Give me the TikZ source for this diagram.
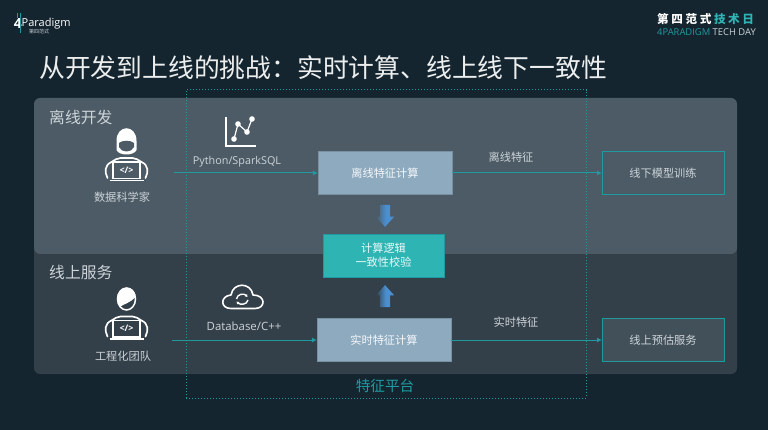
\documentclass[tikz,border=0pt]{standalone}
\usepackage{fontspec}
\setmainfont{Noto Sans CJK SC}
\newfontfamily\latinfont{Open Sans}
\definecolor{pagebg}{RGB}{20,37,48}
\definecolor{panelup}{RGB}{76,91,102}
\definecolor{paneldown}{RGB}{51,63,73}
\definecolor{tealline}{RGB}{31,154,160}
\definecolor{tealbox}{RGB}{47,180,180}
\definecolor{steelbox}{RGB}{141,170,191}
\definecolor{softtext}{RGB}{205,212,216}
\definecolor{arrowblue}{RGB}{74,143,208}
\usetikzlibrary{arrows.meta,shapes.arrows}
\pgfdeclarehorizontalshading{fadeup}{100bp}{color(0bp)=(panelup); color(25bp)=(panelup); color(52bp)=(arrowblue); color(100bp)=(arrowblue)}
\pgfdeclarehorizontalshading{fadedown}{100bp}{color(0bp)=(paneldown); color(25bp)=(paneldown); color(52bp)=(arrowblue); color(100bp)=(arrowblue)}

\tikzset{
  pics/coder/.style={code={
    \draw[white, line width=1.7pt, line join=round, line cap=round]
      (-19,8) .. controls (-22,2) and (-22,-5) .. (-15,-8)
      .. controls (-12,-10) and (-9,-12) .. (-6,-12)
      -- (6,-12) .. controls (9,-12) and (12,-10) .. (15,-8)
      .. controls (22,-5) and (22,2) .. (19,8);
    \draw[white, fill=#1, line width=1.2pt] (-13.5,-8) rectangle (13.5,8.5);
    \draw[white, line width=1.8pt] (-17,10.5) -- (17,10.5);
    \node[text=white, font=\latinfont\fontsize{9}{9}\selectfont\bfseries, inner sep=0pt] (code) at (0,0) {</>};
  }}
}

\begin{document}
\begin{tikzpicture}[x=1pt, y=-1pt,
    every node/.style={align=center, text=softtext, font=\fontsize{11.2}{14}\selectfont},
    panel/.style={minimum width=703pt, rounded corners=6pt, inner sep=0pt, outer sep=0pt},
    calcbox/.style={fill=steelbox, draw=steelbox!85!black, text=white!92!steelbox, minimum width=134pt, minimum height=43pt, inner sep=0pt, outer sep=0pt},
    sinkbox/.style={draw=tealline, line width=1pt, minimum width=122pt, minimum height=43pt, inner sep=0pt, outer sep=0pt},
    flowline/.style={-{Latex[length=5pt, width=5pt]}, tealline, line width=1pt},
    blockarrow/.style={single arrow, minimum height=22pt, minimum width=18pt, inner sep=5pt, outer sep=0pt,
                       single arrow head extend=4pt, single arrow tip angle=84, shape border rotate=0},
    tag/.style={inner sep=0pt}]

  \useasboundingbox (0,0) rectangle (768,430);
  \fill[pagebg] (0,0) rectangle (768,430);

  \node[tag, text=white, font=\latinfont\fontsize{11}{11}\selectfont, anchor=west] (logoname) at (21.5,23.5) {Paradigm};
  \node[tag, text=white, font=\latinfont\fontsize{14}{14}\selectfont\bfseries, anchor=east] (logofour) at (22,23.5) {4};
  \node[tag, text=softtext, font=\fontsize{5}{5}\selectfont] (logosub) at (39,31.5) {第四范式};
  \draw[tealline, line width=1pt] (17.5,13) -- (17.5,18) (20.5,13) -- (20.5,33);

  \node[tag, text=white, font=\fontsize{11.6}{12}\selectfont\bfseries, anchor=west] (dayzh) at (657,19.5)
    {第\hspace{2.6pt}四\hspace{2.6pt}范\hspace{2.6pt}式\hspace{2.6pt}\textcolor{tealbox}{技\hspace{2.6pt}术\hspace{2.6pt}日}};
  \node[tag, text=softtext, font=\latinfont\fontsize{9.4}{10}\selectfont, anchor=west] (dayen) at (657,32)
    {\textcolor{tealline}{4PARADIGM} TECH DAY};

  \node[tag, text=white!92!pagebg, font=\fontsize{25.8}{28}\selectfont, anchor=west] (headline) at (39,68)
    {从开发到上线的挑战：实时计算、线上线下一致性};

  \node[panel, fill=paneldown, minimum height=134pt] (panelserve) at (385.5,307) {};
  \node[panel, fill=panelup, minimum height=156pt] (paneldev) at (385.5,176) {};
  \node[tag, font=\fontsize{15.8}{16}\selectfont, anchor=west] (devname) at (49,117) {离线开发};
  \node[tag, font=\fontsize{15.8}{16}\selectfont, anchor=west] (servename) at (49,272) {线上服务};

  \node[draw=tealline, dotted, line width=1pt, minimum width=400pt, minimum height=308.5pt,
        inner sep=0pt, outer sep=0pt] (platform) at (386,243.8) {};
  \node[tag, text=tealline, font=\fontsize{14.6}{15}\selectfont] (platformname) at (385,386) {特征平台};

  \foreach \nm/\y/\lbl in {
    offline/173/离线特征计算,
    realtime/340/实时特征计算}
  {
    \node[calcbox] (\nm) at (385-\y/167+1,\y) {\lbl};
  }
  \node[sinkbox] (modeltrain) at (663,173) {线下模型训练};
  \node[sinkbox, fill=panelup!60!paneldown] (predict) at (663,340) {线上预估服务};
  \node[fill=tealbox, draw=tealline, minimum width=121pt, minimum height=43pt, inner sep=0pt, outer sep=0pt,
        text=white!90!tealbox] (checker) at (383.5,255.5) {计算逻辑\\一致性校验};

  \node[blockarrow, rotate=-90, shade, shading=fadeup] (arrowdown) at (385,213) {};
  \node[blockarrow, rotate=90, shade, shading=fadedown] (arrowup) at (385,299) {};

  \coordinate (scientistout) at (174,173);
  \coordinate (engineerout) at (172,340);
  \draw[flowline] (scientistout) -- (offline);
  \draw[flowline] (engineerout) -- (realtime);
  \draw[flowline] (offline) -- (modeltrain);
  \draw[flowline] (realtime) -- (predict);

  \node[tag, font=\latinfont\fontsize{10.8}{12}\selectfont] (sparkname) at (237,162) {Python/SparkSQL};
  \node[tag, font=\latinfont\fontsize{11.4}{12}\selectfont] (dbname) at (244,326) {Database/C++};
  \node[tag] (offlinename) at (511,157) {离线特征};
  \node[tag] (realtimename) at (516,322) {实时特征};
  \node[tag] (scientistname) at (122,197) {数据科学家};
  \node[tag] (engineername) at (123,356) {工程化团队};

  \fill[white] (116.5,141) .. controls (116.5,124) and (136.5,124) .. (136.5,141)
    -- (136.5,150) .. controls (134,156) and (119,156) .. (116.5,150) -- cycle;
  \fill[panelup] (119,143) .. controls (122,140) and (131,140) .. (134,143)
    -- (134,147) .. controls (132,153) and (121,153) .. (119,147) -- cycle;
  \pic (scientist) at (126.5,170) {coder=panelup};

  \draw[white, line width=1.5pt] (126.5,299) ellipse (9pt and 11pt);
  \fill[white] (117,300) .. controls (117,284) and (135.5,284) .. (135.5,297)
    .. controls (130,303) and (124,304) .. (119.5,307) -- cycle;
  \pic (engineer) at (126.5,328.5) {coder=paneldown};

  \draw[white, line width=1.5pt] (226,117) -- (226,146) -- (256,146);
  \draw[white, line width=1.2pt] (234,139) -- (238,124) -- (247,132) -- (252,119);
  \foreach \px/\py in {234/139, 238/124, 247/132, 252/119}
    \fill[white] (\px,\py) circle (2.8pt);

  \draw[white, line width=1.6pt, line join=round]
    (231,308.5) .. controls (220,308.5) and (220,296) .. (231,295)
    .. controls (233,282) and (251,282) .. (253,295)
    .. controls (266,295) and (266,308.5) .. (255,308.5) -- cycle;
  \draw[white, line width=1.4pt, -{Latex[length=2.5pt, width=3.5pt]}] (236.5,299) .. controls (237,294) and (244,293) .. (247.5,297);
  \draw[white, line width=1.4pt, -{Latex[length=2.5pt, width=3.5pt]}] (248,300) .. controls (247,305) and (240,305) .. (236.5,301.5);
\end{tikzpicture}
\end{document}
